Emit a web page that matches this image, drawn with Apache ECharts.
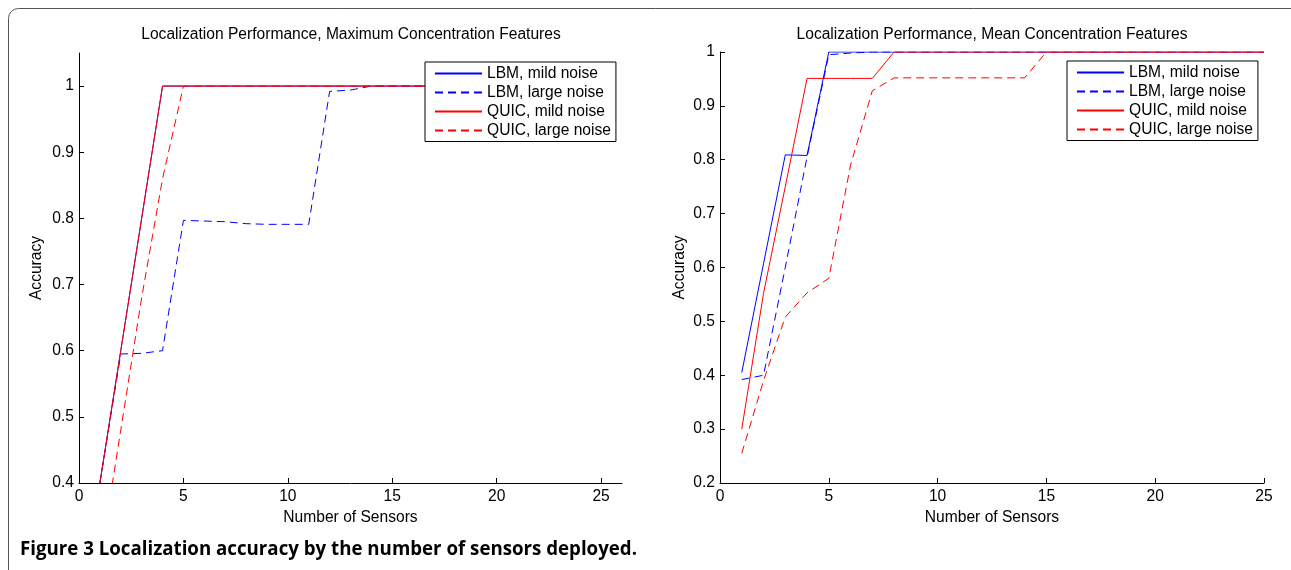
<!DOCTYPE html>
<html>
<head>
<meta charset="utf-8">
<script src="https://cdn.jsdelivr.net/npm/echarts@6/dist/echarts.min.js"></script>
<style>
html,body{margin:0;padding:0;background:#fff;}
#chart{width:1291px;height:570px;}
</style>
</head>
<body>
<div id="chart"></div>
<script>
// ---- data ----
const sensors = [1,2,3,4,5,6,7,8,9,10,11,12,13,14,15,16,17,18,19,20,21,22,23,24,25];
const seriesNames = ['LBM, mild noise','LBM, large noise','QUIC, mild noise','QUIC, large noise'];

// Left: Maximum Concentration Features
const maxLbmMild   = [0.40,0.60,0.80,1,1,1,1,1,1,1,1,1,1,1,1,1,1,1,1,1,1,1,1,1,1];
const maxLbmLarge  = [0.40,0.595,0.596,0.60,0.797,0.796,0.795,0.792,0.791,0.791,0.791,0.992,0.994,1,1,1,1,1,1,1,1,1,1,1,1];
const maxQuicMild  = [0.40,0.60,0.80,1,1,1,1,1,1,1,1,1,1,1,1,1,1,1,1,1,1,1,1,1,1];
const maxQuicLarge = [0.28,0.48,0.68,0.86,1,1,1,1,1,1,1,1,1,1,1,1,1,1,1,1,1,1,1,1,1];

// Right: Mean Concentration Features
const meanLbmMild   = [0.405,0.607,0.809,0.808,1,1,1,1,1,1,1,1,1,1,1,1,1,1,1,1,1,1,1,1,1];
const meanLbmLarge  = [0.392,0.400,0.600,0.805,0.995,0.998,1,1,1,1,1,1,1,1,1,1,1,1,1,1,1,1,1,1,1];
const meanQuicMild  = [0.30,0.552,0.75,0.951,0.951,0.951,0.951,1,1,1,1,1,1,1,1,1,1,1,1,1,1,1,1,1,1];
const meanQuicLarge = [0.255,0.39,0.508,0.553,0.58,0.79,0.928,0.952,0.952,0.952,0.952,0.952,0.952,0.952,1,1,1,1,1,1,1,1,1,1,1];

// tick labels
const xTicks = [0,5,10,15,20,25];
const maxYTicks = [0.4,0.5,0.6,0.7,0.8,0.9,1];
const meanYTicks = [0.2,0.3,0.4,0.5,0.6,0.7,0.8,0.9,1];

const titles = ['Localization Performance, Maximum Concentration Features','Localization Performance, Mean Concentration Features'];
const caption = 'Figure 3 Localization accuracy by the number of sensors deployed.';

// ---- build ----
const FONT = 'Liberation Sans';
const FS = 15.6;
const DASH = [8,5];
const styles = [
  {color:'#0000ff', type:'solid'},
  {color:'#0000ff', type:DASH},
  {color:'#ff0000', type:'solid'},
  {color:'#ff0000', type:DASH}
];
const pairs = arr => sensors.map((x,i)=>[x, arr[i]]);

function mkSeries(list, gi){
  return list.map((arr,k)=>({
    name: seriesNames[k], type:'line', xAxisIndex:gi, yAxisIndex:gi,
    data: pairs(arr), symbol:'none', clip:true, animation:false,
    lineStyle:{color:styles[k].color, type:styles[k].type, width:1},
    itemStyle:{color:styles[k].color}
  }));
}

function xAx(gi, max){
  return {type:'value', gridIndex:gi, min:0, max:max,
    name:'Number of Sensors', nameLocation:'middle', nameGap:25,
    nameTextStyle:{fontSize:FS, color:'#000', fontFamily:FONT},
    axisLine:{show:true, lineStyle:{color:'#000', width:1}},
    axisTick:{show:true, inside:true, length:5, customValues:xTicks, lineStyle:{color:'#000'}},
    axisLabel:{customValues:xTicks, fontSize:FS, color:'#000', margin:6, fontFamily:FONT},
    splitLine:{show:false}};
}
function yAx(gi, min, max, ticks, gap){
  return {type:'value', gridIndex:gi, min:min, max:max,
    name:'Accuracy', nameLocation:'middle', nameGap:gap,
    nameTextStyle:{fontSize:FS, color:'#000', fontFamily:FONT},
    axisLine:{show:true, lineStyle:{color:'#000', width:1}},
    axisTick:{show:true, inside:true, length:5, customValues:ticks, lineStyle:{color:'#000'}},
    axisLabel:{customValues:ticks, fontSize:FS, color:'#000', margin:5, fontFamily:FONT},
    splitLine:{show:false}};
}
function mkLegend(left, top){
  return {orient:'vertical', left:left, top:top, data:seriesNames,
    backgroundColor:'#fff', borderColor:'#000', borderWidth:1, borderRadius:0,
    padding:[3.5,5,3,9], itemGap:3, itemWidth:47, itemHeight:15,
    itemStyle:{opacity:0}, selectedMode:false,
    textStyle:{fontSize:FS, color:'#000', fontFamily:FONT}};
}

const chart = echarts.init(document.getElementById('chart'), null, {renderer:'canvas'});
chart.setOption({
  animation:false,
  backgroundColor:'#fff',
  textStyle:{fontFamily:FONT},
  title:[
    {text:titles[0], left:351, top:27, textAlign:'center', padding:0,
     textStyle:{fontSize:FS, fontWeight:'normal', color:'#000', fontFamily:FONT}},
    {text:titles[1], left:992, top:27, textAlign:'center', padding:0,
     textStyle:{fontSize:FS, fontWeight:'normal', color:'#000', fontFamily:FONT}}
  ],
  grid:[
    {left:79, top:53, width:543, height:430, containLabel:false},
    {left:720, top:52, width:544, height:431, containLabel:false}
  ],
  xAxis:[xAx(0,26), xAx(1,25)],
  yAxis:[yAx(0,0.4,1.05,maxYTicks,34), yAx(1,0.2,1,meanYTicks,32)],
  legend:[mkLegend(425,62), mkLegend(1067,61)],
  series:[].concat(
    mkSeries([maxLbmMild,maxLbmLarge,maxQuicMild,maxQuicLarge],0),
    mkSeries([meanLbmMild,meanLbmLarge,meanQuicMild,meanQuicLarge],1)
  ),
  graphic:[
    {type:'rect', shape:{x:8.5, y:8.5, width:1400, height:700, r:10}, silent:true,
     style:{fill:'none', stroke:'#555', lineWidth:1}},
    {type:'text', left:20, top:540, silent:true,
     style:{text:caption, font:'bold 18.7px "Open Sans"', fill:'#000'}}
  ]
});
</script>
</body>
</html>
